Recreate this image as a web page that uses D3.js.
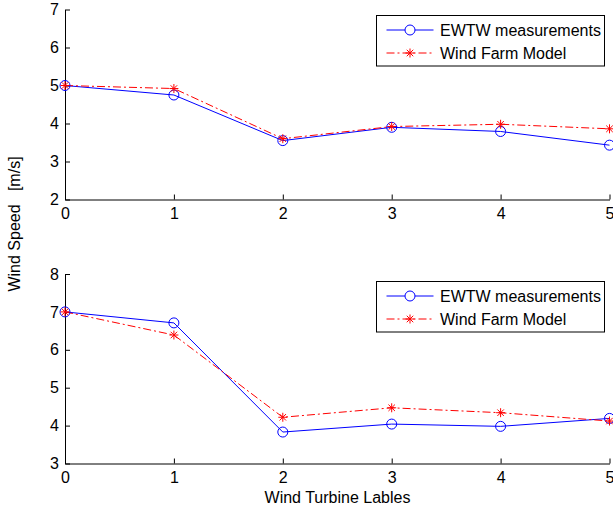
<!DOCTYPE html>
<html>
<head>
<meta charset="utf-8">
<script src="https://cdn.jsdelivr.net/npm/d3@7"></script>
<style>
  html, body { margin: 0; padding: 0; background: #fff; }
  svg { display: block; }
  text { font-family: "Liberation Sans", Arial, Helvetica, sans-serif; fill: #000; }
</style>
</head>
<body>
<svg id="chart" width="613" height="509"></svg>
<script>
// Turbine positions along the row
const turbines = [0, 1, 2, 3, 4, 5];

// Upper panel: lower inflow case
const measuredLow = [5.0, 4.75, 3.55, 3.90, 3.79, 3.43];
const modelLow    = [5.0, 4.92, 3.60, 3.92, 3.98, 3.86];

// Lower panel: higher inflow case
const measuredHigh = [7.0, 6.71, 3.83, 4.04, 3.98, 4.19];
const modelHigh    = [7.0, 6.39, 4.22, 4.47, 4.34, 4.12];

const xTicks = [0, 1, 2, 3, 4, 5];
const yTicksTop = [2, 3, 4, 5, 6, 7];
const yTicksBottom = [3, 4, 5, 6, 7, 8];

const seriesNames = ["EWTW measurements", "Wind Farm Model"];
const xTitle = "Wind Turbine Lables";
const yTitle = "Wind Speed   [m/s]";

const svg = d3.select("#chart");
const FONT = 16;
const blue = "#0000ff";
const red = "#ff0000";
const dashDot = "8,3,2,3";
const fmt = d3.format("d");

// asterisk marker: plus and cross overlaid
function starPath(cx, cy, r) {
  const d = r * 0.72;
  return `M${cx - r},${cy}L${cx + r},${cy}M${cx},${cy - r}L${cx},${cy + r}` +
         `M${cx - d},${cy - d}L${cx + d},${cy + d}M${cx - d},${cy + d}L${cx + d},${cy - d}`;
}

function panel(cfg) {
  const x = d3.scaleLinear().domain([0, 5]).range([65, 609.5]);
  const y = d3.scaleLinear().domain(cfg.yDomain).range(cfg.yRange);
  const g = svg.append("g");

  // axes (inner ticks, no box)
  const xAxis = d3.axisBottom(x).tickValues(xTicks).tickFormat(fmt)
    .tickSizeInner(-5).tickSizeOuter(0).tickPadding(7);
  const gx = g.append("g").attr("transform", `translate(0,${cfg.yRange[0]})`).call(xAxis);
  const yAxis = d3.axisLeft(y).tickValues(cfg.yTicks).tickFormat(fmt)
    .tickSizeInner(-5).tickSizeOuter(0).tickPadding(6);
  const gy = g.append("g").attr("transform", `translate(${x.range()[0]},0)`).call(yAxis);
  [gx, gy].forEach(a => {
    a.select(".domain").attr("stroke", "#000").attr("stroke-width", 1);
    a.selectAll(".tick line").attr("stroke", "#000");
    a.selectAll("text").style("font-size", FONT + "px").attr("fill", "#000")
      .style("font-family", "'Liberation Sans', Arial, sans-serif");
  });
  gx.selectAll(".tick text").attr("dy", "0.78em");

  const line = d3.line().x((d, i) => x(turbines[i])).y(d => y(d));

  // measurement series
  g.append("path").datum(cfg.measured).attr("d", line)
    .attr("fill", "none").attr("stroke", blue).attr("stroke-width", 1);
  // model series
  g.append("path").datum(cfg.model).attr("d", line)
    .attr("fill", "none").attr("stroke", red).attr("stroke-width", 1)
    .attr("stroke-dasharray", dashDot);

  g.selectAll("circle.meas").data(cfg.measured).join("circle")
    .attr("class", "meas")
    .attr("cx", (d, i) => x(turbines[i])).attr("cy", d => y(d)).attr("r", 5)
    .attr("fill", "none").attr("stroke", blue).attr("stroke-width", 1);
  g.selectAll("path.star").data(cfg.model).join("path")
    .attr("class", "star")
    .attr("d", (d, i) => starPath(x(turbines[i]), y(d), 4.5))
    .attr("stroke", red).attr("stroke-width", 1).attr("fill", "none");

  // legend
  const lg = g.append("g").attr("transform", `translate(376.5,${cfg.legendTop})`);
  lg.append("rect").attr("x", 0).attr("y", 0).attr("width", 228).attr("height", 50.5)
    .attr("fill", "#fff").attr("stroke", "#000").attr("stroke-width", 1);
  const rows = [
    { name: seriesNames[0], color: blue, dash: null, marker: "circle" },
    { name: seriesNames[1], color: red, dash: dashDot, marker: "star" }
  ];
  rows.forEach((r, i) => {
    const cy = 14.5 + i * 23;
    lg.append("line").attr("x1", 10).attr("x2", 57).attr("y1", cy).attr("y2", cy)
      .attr("stroke", r.color).attr("stroke-width", 1)
      .attr("stroke-dasharray", r.dash);
    if (r.marker === "circle") {
      lg.append("circle").attr("cx", 33.5).attr("cy", cy).attr("r", 5)
        .attr("fill", "#fff").attr("stroke", r.color);
    } else {
      lg.append("path").attr("d", starPath(33.5, cy, 4.5)).attr("stroke", r.color).attr("fill", "none");
    }
    lg.append("text").attr("x", 63.5).attr("y", cy).attr("dy", "0.36em")
      .style("font-size", FONT + "px").text(r.name);
  });
}

panel({
  yDomain: [2, 7], yRange: [199.5, 9.5], yTicks: yTicksTop,
  measured: measuredLow, model: modelLow, legendTop: 15.5
});
panel({
  yDomain: [3, 8], yRange: [463.5, 274], yTicks: yTicksBottom,
  measured: measuredHigh, model: modelHigh, legendTop: 281.5
});

// shared titles
svg.append("text").attr("x", 337.5).attr("y", 503).attr("text-anchor", "middle")
  .style("font-size", FONT + "px").text(xTitle);
svg.append("text").attr("transform", "translate(20,224) rotate(-90)")
  .attr("text-anchor", "middle").style("font-size", FONT + "px")
  .attr("xml:space", "preserve").style("white-space", "pre").text(yTitle);
</script>
</body>
</html>
